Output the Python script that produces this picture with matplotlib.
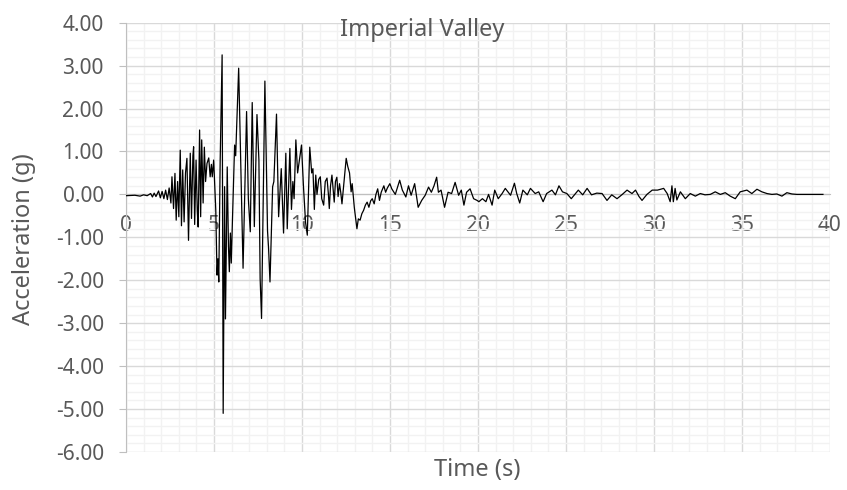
import matplotlib
matplotlib.use('Agg')
import matplotlib.pyplot as plt
from matplotlib.ticker import MultipleLocator, FuncFormatter

plt.rcParams['font.family'] = ['Noto Sans', 'DejaVu Sans']
plt.rcParams['axes.unicode_minus'] = False

# Imperial Valley record (time in s, acceleration in g)
time_s = [
    0.0, 0.5, 0.8, 1.0, 1.2, 1.4, 1.5, 1.6, 1.7, 1.85, 1.95, 2.05, 2.15, 2.25, 2.35, 2.45,
    2.55, 2.61, 2.7, 2.78, 2.85, 2.93, 3.0, 3.08, 3.15, 3.22, 3.3, 3.38, 3.46, 3.55,
    3.65, 3.72, 3.8, 3.84, 3.9, 3.98, 4.05, 4.1, 4.18, 4.24, 4.3, 4.38, 4.45, 4.52,
    4.6, 4.7, 4.78, 4.85, 4.9, 4.98, 5.03, 5.1, 5.17, 5.22, 5.27, 5.35, 5.46, 5.52,
    5.6, 5.65, 5.75, 5.82, 5.87, 5.93, 5.98, 6.05, 6.17, 6.23, 6.4, 6.65, 6.85, 6.95,
    7.06, 7.17, 7.29, 7.44, 7.55, 7.62, 7.7, 7.89, 8.04, 8.1, 8.18, 8.33, 8.4, 8.55,
    8.67, 8.82, 8.95, 9.08, 9.16, 9.31, 9.4, 9.48, 9.55, 9.65, 9.75, 9.97, 10.08, 10.2,
    10.3, 10.44, 10.55, 10.62, 10.7, 10.78, 10.85, 10.95, 11.04, 11.12, 11.23, 11.32,
    11.42, 11.5, 11.55, 11.62, 11.7, 11.77, 11.83, 11.9, 11.98, 12.05, 12.13, 12.2,
    12.27, 12.4, 12.51, 12.6, 12.7, 12.79, 12.85, 12.97, 13.12, 13.2, 13.3, 13.4,
    13.5, 13.6, 13.7, 13.8, 13.9, 13.99, 14.1, 14.2, 14.3, 14.4, 14.5, 14.65, 14.75,
    14.85, 14.99, 15.1, 15.3, 15.45, 15.55, 15.7, 15.9, 16.05, 16.2, 16.4, 16.6, 16.8,
    17.0, 17.19, 17.35, 17.5, 17.65, 17.75, 17.9, 18.1, 18.3, 18.5, 18.7, 18.9, 19.05,
    19.2, 19.35, 19.55, 19.75, 19.95, 20.05, 20.25, 20.45, 20.6, 20.8, 20.95, 21.15,
    21.37, 21.55, 21.85, 22.07, 22.2, 22.37, 22.55, 22.8, 22.98, 23.25, 23.45, 23.7,
    23.9, 24.2, 24.4, 24.6, 24.8, 25.05, 25.3, 25.5, 25.7, 25.95, 26.2, 26.45, 26.75,
    27.05, 27.33, 27.6, 27.9, 28.2, 28.47, 28.75, 28.95, 29.15, 29.32, 29.6, 29.9,
    30.2, 30.55, 30.75, 30.92, 31.02, 31.1, 31.2, 31.3, 31.5, 31.78, 32.06, 32.35,
    32.63, 32.9, 33.2, 33.48, 33.77, 34.05, 34.33, 34.62, 34.9, 35.28, 35.56, 35.85,
    36.13, 36.42, 36.7, 36.98, 37.27, 37.55, 37.84, 38.12, 39.6,
]
accel_g = [
    -0.03, -0.02, -0.04, -0.01, -0.03, 0.02, -0.06, 0.03, -0.05, 0.08, -0.08, 0.07, -0.1, 0.1, -0.12, 0.15,
    -0.2, 0.41, -0.33, 0.49, -0.6, 0.3, -0.52, 1.03, -0.73, 0.57, -0.64, 0.5, 0.84, -1.07,
    0.96, -0.56, 0.9, 1.11, -0.7, 0.8, -0.4, -0.76, 1.5, -0.52, 1.27, -0.2, 1.1, 0.3,
    0.72, 0.85, 0.41, 0.7, 0.41, 0.8, 0.3, -0.37, -1.88, -1.5, -2.04, 0.8, 3.25, -5.1,
    0.18, -2.9, 0.64, -1.2, -1.8, -0.9, -1.6, -0.55, 1.15, 0.9, 2.94, -1.72, 1.93, -0.1,
    -0.87, 2.14, -0.75, 1.86, 0.8, -1.96, -2.89, 2.64, -0.85, -1.26, -2.04, 0.18, 0.3, 1.87,
    -0.52, 0.6, -0.9, 0.96, -0.8, 1.07, -0.35, 0.3, -0.1, 1.27, 0.5, 1.15, 0.2, -0.65,
    -0.95, 1.1, 0.5, 0.6, -0.35, 0.45, 0.0, 0.35, 0.41, -0.1, -0.25, 0.3,
    0.38, 0.0, -0.33, 0.2, 0.45, 0.1, -0.18, 0.3, 0.4, -0.05, 0.25, 0.05,
    -0.22, 0.35, 0.84, 0.65, 0.5, 0.06, 0.25, -0.3, -0.8, -0.57, -0.6, -0.45,
    -0.37, -0.25, -0.18, -0.3, -0.15, -0.1, -0.22, 0.0, 0.13, -0.14, 0.05, 0.2, 0.05,
    0.15, 0.25, 0.13, 0.0, 0.2, 0.33, 0.1, -0.06, 0.2, -0.02, 0.25, -0.3, -0.14,
    -0.02, 0.17, 0.05, 0.2, 0.4, 0.05, 0.1, -0.3, 0.05, 0.02, 0.28, -0.02, 0.1,
    -0.25, 0.05, 0.13, -0.1, -0.14, -0.17, -0.1, -0.17, 0.0, -0.25, 0.1, -0.1,
    0.02, 0.14, -0.02, 0.26, 0.02, -0.2, 0.1, -0.01, 0.14, 0.02, 0.06, -0.17,
    0.02, 0.1, -0.01, 0.2, 0.06, 0.02, -0.1, 0.0, 0.1, -0.01, 0.14, -0.01, 0.03,
    0.02, -0.14, -0.01, -0.1, 0.0, 0.1, 0.02, 0.1, -0.05, -0.14, 0.0, 0.1,
    0.1, 0.14, 0.02, -0.17, 0.2, -0.17, 0.14, -0.13, 0.06, -0.1, 0.02, -0.04,
    0.02, -0.01, 0.0, 0.06, 0.0, 0.04, -0.04, -0.1, 0.06, 0.1, 0.02, 0.12,
    0.06, 0.02, 0.0, 0.01, -0.04, 0.04, 0.01, 0.0, 0.0,
]

TEXT = '#595959'

fig = plt.figure(figsize=(8.47, 4.90), dpi=100)
ax = fig.add_axes([0.1488, 0.0776, 0.9799 - 0.1488, 0.9537 - 0.0776])

ax.plot(time_s, accel_g, color='black', linewidth=0.9, zorder=3)

ax.set_xlim(0, 40)
ax.set_ylim(-6, 4)
ax.xaxis.set_major_locator(MultipleLocator(5))
ax.xaxis.set_minor_locator(MultipleLocator(1))
ax.yaxis.set_major_locator(MultipleLocator(1))
ax.yaxis.set_minor_locator(MultipleLocator(0.2))
ax.yaxis.set_major_formatter(FuncFormatter(lambda v, p: f'{v:.2f}'))

ax.grid(which='major', color='#D9D9D9', linewidth=1.0)
ax.grid(which='minor', color='#F2F2F2', linewidth=1.0)
ax.set_axisbelow(True)

# x axis crosses at zero
ax.spines['bottom'].set_position(('data', 0))
ax.spines['bottom'].set_color('#BFBFBF')
ax.spines['left'].set_color('#BFBFBF')
ax.spines['top'].set_visible(False)
ax.spines['right'].set_visible(False)

ax.tick_params(axis='x', which='both', length=0, pad=15, labelsize=15, labelcolor=TEXT)
ax.tick_params(axis='y', which='major', length=5, color='#BFBFBF', pad=11, labelsize=15, labelcolor=TEXT)
ax.tick_params(axis='y', which='minor', length=0)

fig.text(0.028, 0.512, 'Acceleration (g)', rotation=90, ha='center', va='center',
         fontsize=17, color=TEXT)
fig.text(0.563, 0.041, 'Time (s)', ha='center', va='center', fontsize=17, color=TEXT)
fig.text(0.498, 0.938, 'Imperial Valley', ha='center', va='center', fontsize=17, color=TEXT)

fig.savefig('out.png', dpi=100)
